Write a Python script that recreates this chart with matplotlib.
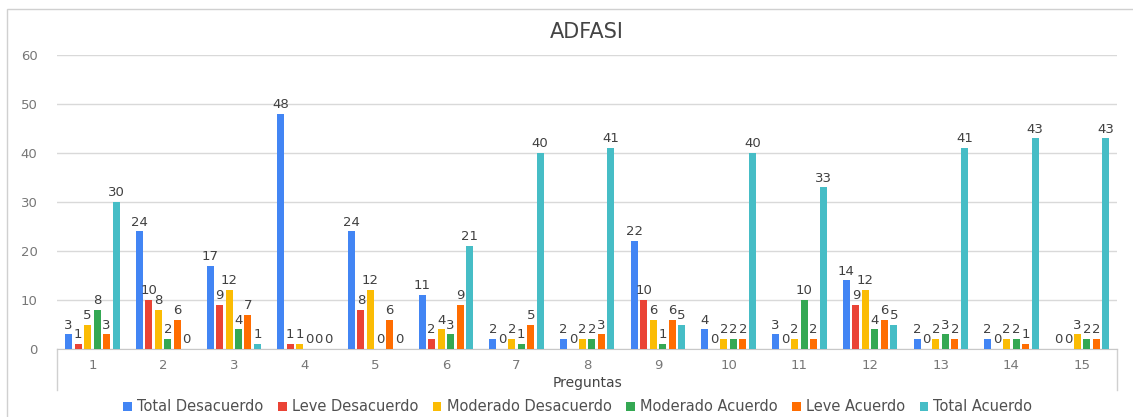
import matplotlib
matplotlib.use("Agg")
import matplotlib.pyplot as plt
from matplotlib.patches import Rectangle
import numpy as np

plt.rcParams['font.family'] = ['DejaVu Sans']

preguntas = ["1", "2", "3", "4", "5", "6", "7", "8", "9", "10", "11", "12", "13", "14", "15"]
series_names = ["Total Desacuerdo", "Leve Desacuerdo", "Moderado Desacuerdo",
                "Moderado Acuerdo", "Leve Acuerdo", "Total Acuerdo"]
total_desacuerdo = [3, 24, 17, 48, 24, 11, 2, 2, 22, 4, 3, 14, 2, 2, 0]
leve_desacuerdo = [1, 10, 9, 1, 8, 2, 0, 0, 10, 0, 0, 9, 0, 0, 0]
moderado_desacuerdo = [5, 8, 12, 1, 12, 4, 2, 2, 6, 2, 2, 12, 2, 2, 3]
moderado_acuerdo = [8, 2, 4, 0, 0, 3, 1, 2, 1, 2, 10, 4, 3, 2, 2]
leve_acuerdo = [3, 6, 7, 0, 6, 9, 5, 3, 6, 2, 2, 6, 2, 1, 2]
total_acuerdo = [30, 0, 1, 0, 0, 21, 40, 41, 5, 40, 33, 5, 41, 43, 43]
colors = ["#4285F4", "#EA4335", "#FBBC04", "#34A853", "#FF6D01", "#46BDC6"]

all_series = [total_desacuerdo, leve_desacuerdo, moderado_desacuerdo,
              moderado_acuerdo, leve_acuerdo, total_acuerdo]

fig = plt.figure(figsize=(11.33, 4.17), dpi=100)
# outer chart border
fig.patches.append(Rectangle((7 / 1133, -0.1), 1.2, 1.1 - 9 / 417,
                             transform=fig.transFigure, fill=False,
                             edgecolor="#d0d0d0", linewidth=1.0))
ax = fig.add_axes([0.0503, 0.163, 0.936, 0.705])

x = np.arange(len(preguntas))
slot = 0.134
bw = 0.099
for i, (vals, name, c) in enumerate(zip(all_series, series_names, colors)):
    pos = x + (i - 2.5) * slot
    bars = ax.bar(pos, vals, width=bw, color=c, label=name, zorder=3)
    for b, v in zip(bars, vals):
        ax.annotate(str(v), (b.get_x() + b.get_width() / 2, v),
                    xytext=(0, 2), textcoords="offset points",
                    ha="center", va="bottom", fontsize=9.5, color="#404040",
                    zorder=4)

ax.set_xlim(-0.5, len(preguntas) - 0.5)
ax.set_ylim(0, 60)
ax.set_yticks(range(0, 61, 10))
ax.set_xticks(x)
ax.set_xticklabels(preguntas)
ax.tick_params(axis="both", length=0, colors="#777777", labelsize=9.5)
ax.tick_params(axis="x", pad=7)
ax.tick_params(axis="y", pad=14)
ax.grid(axis="y", color="#d9d9d9", linewidth=1.0, zorder=0)
for s in ["top", "right", "left"]:
    ax.spines[s].set_visible(False)
ax.spines["bottom"].set_color("#c8c8c8")
# category axis box sides
for xx in (0.0, 1.0):
    ax.plot([xx, xx], [0, -0.14], transform=ax.transAxes, color="#d0d0d0",
            linewidth=1.0, clip_on=False)

ax.set_xlabel("Preguntas", fontsize=10, color="#444444", labelpad=3)
ax.set_title("ADFASI", fontsize=15, color="#444444", pad=12)

fig.legend(loc="lower center", bbox_to_anchor=(0.51, -0.025), ncol=6,
           frameon=False, fontsize=10.5, handlelength=0.6, handleheight=0.6,
           handletextpad=0.35, columnspacing=1.0, labelcolor="#505050")

fig.savefig("out.png", dpi=100)
